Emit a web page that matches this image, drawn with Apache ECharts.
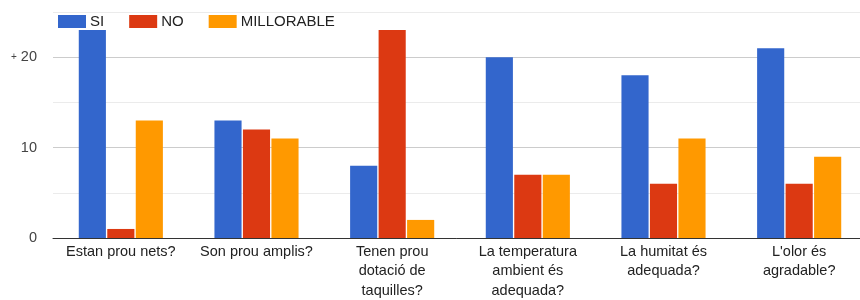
<!DOCTYPE html>
<html>
<head>
<meta charset="utf-8">
<script src="https://cdn.jsdelivr.net/npm/echarts@6/dist/echarts.min.js"></script>
<style>
  html, body { margin: 0; padding: 0; background: #fff; }
  #chart { width: 860px; height: 300px; }
</style>
</head>
<body>
<div id="chart"></div>
<script>
// preguntes (eix x)
const categories = [
  'Estan prou nets?',
  'Son prou amplis?',
  'Tenen prou\ndotació de\ntaquilles?',
  'La temperatura\nambient és\nadequada?',
  'La humitat és\nadequada?',
  "L'olor és\nagradable?"
]
const siValues = [23, 13, 8, 20, 18, 21]
const noValues = [1, 12, 23, 7, 6, 6]
const millorableValues = [13, 11, 2, 7, 11, 9]
const seriesNames = ['SI', 'NO', 'MILLORABLE']
const yLabels = [0, 10, 20]

const chart = echarts.init(document.getElementById('chart'))

const font = '"Liberation Sans", Arial, sans-serif'

chart.setOption({
  animation: false,
  color: ['#3366cc', '#dc3912', '#ff9900'],
  legend: {
    data: seriesNames,
    left: 53,
    top: 9,
    itemWidth: 28,
    itemHeight: 13,
    itemGap: 25,
    itemStyle: { borderWidth: 0 },
    icon: 'rect',
    textStyle: { color: '#222', fontSize: 15, fontFamily: font, padding: [0, 0, 0, -1] }
  },
  // la zona del gràfic continua una mica més enllà de la vora dreta
  grid: { left: 53, right: -7, top: 12, bottom: 62, outerBoundsMode: 'none' },
  xAxis: {
    type: 'category',
    data: categories,
    axisTick: { show: false },
    axisLine: { lineStyle: { color: '#333', width: 1 } },
    axisLabel: {
      color: '#222',
      fontSize: 14.5,
      fontFamily: font,
      lineHeight: 19.5,
      margin: 4,
      interval: 0
    }
  },
  yAxis: {
    type: 'value',
    min: 0,
    max: 25,
    interval: 5,
    axisLine: { show: false },
    axisTick: { show: false },
    splitLine: { lineStyle: { color: ['#cccccc', '#ebebeb'], width: 1 } },
    axisLabel: {
      color: '#444',
      fontSize: 14.5,
      fontFamily: font,
      margin: 16,
      formatter: v => {
        if (!yLabels.includes(v)) return ''
        return v === 20 ? '{p|+} ' + v : String(v)
      },
      rich: { p: { fontSize: 10, color: '#444', fontFamily: font } }
    }
  },
  series: [
    { name: seriesNames[0], type: 'bar', data: siValues, barGap: '5%', barCategoryGap: '38%' },
    { name: seriesNames[1], type: 'bar', data: noValues, barGap: '5%', barCategoryGap: '38%' },
    { name: seriesNames[2], type: 'bar', data: millorableValues, barGap: '5%', barCategoryGap: '38%' }
  ]
})
</script>
</body>
</html>
